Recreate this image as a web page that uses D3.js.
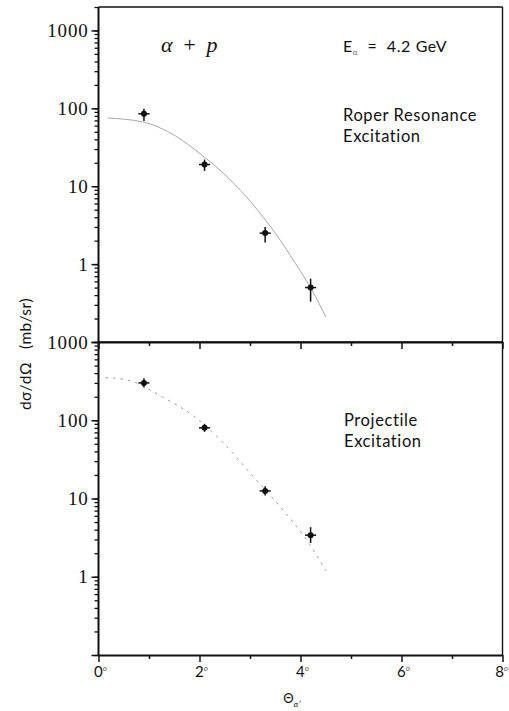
<!DOCTYPE html>
<html>
<head>
<meta charset="utf-8">
<script src="https://cdn.jsdelivr.net/npm/d3@7"></script>
<style>
  html, body { margin: 0; padding: 0; background: #fff; }
  svg { display: block; }
  text { fill: #111; }
</style>
</head>
<body>
<script>
// ---- data ----
const theta = [0.9, 2.1, 3.3, 4.2];            // scattering angle, degrees
const thetaErr = [0.11, 0.11, 0.11, 0.11];

const roperVals = [85, 19, 2.5, 0.5];
const roperLo   = [69, 15.7, 1.9, 0.33];
const roperHi   = [99, 22, 3.0, 0.65];

const projVals = [300, 80, 12.5, 3.4];
const projLo   = [262, 71, 10.9, 2.7];
const projHi   = [344, 90, 14.3, 4.3];

const roperCurveTheta = [0.18, 0.87, 1.53, 2.05, 2.58, 3.04, 3.50, 3.90, 4.23, 4.50];
const roperCurveVals  = [75, 67, 44, 25, 12.6, 6.0, 2.5, 1.02, 0.46, 0.21];

const projCurveTheta = [0.14, 0.60, 1.26, 1.86, 2.45, 2.98, 3.60, 4.13, 4.50];
const projCurveVals  = [351, 324, 199, 116, 53, 22, 7.8, 2.9, 1.2];

const xTicks = [0, 1, 2, 3, 4, 5, 6, 7, 8];
const xTickLabels = ["0", "", "2", "", "4", "", "6", "", "8"];
const yMajorUpper = [0.1, 1, 10, 100, 1000];
const yMajorLower = [0.1, 1, 10, 100, 1000];
const yLabelsUpper = ["", "1", "10", "100", "1000"];
const yLabelsLower = ["", "1", "10", "100", "1000"];

// ---- layout ----
const W = 509, H = 711;
const padL = 98.5, padR = 502.5;
const padT = 7, padM = 342, padB = 655;

const svg = d3.select("body").append("svg").attr("width", W).attr("height", H);

const x = d3.scaleLinear().domain([0, 8]).range([padL, padR]);
const yU = d3.scaleLog().domain([0.1, 2000]).range([padM, padT]);
const yL = d3.scaleLog().domain([0.1, 1000]).range([padB, padM]);

function minorTicks(domain) {
  const out = [];
  for (let e = -1; e <= 3; e++) {
    for (let m = 1; m <= 9; m++) {
      const v = m * Math.pow(10, e);
      if (v >= domain[0] - 1e-9 && v <= domain[1] + 1e-9) out.push(v);
    }
  }
  return out;
}

const serif = "'Liberation Serif', 'DejaVu Serif', serif";
const sans = "'Lato', 'Open Sans', sans-serif";

function drawPanel(y, majors, labels, curveT, curveV, dashed, vals, lo, hi) {
  const y0 = y.range()[0], y1 = y.range()[1];
  svg.append("line").attr("x1", padL).attr("x2", padR).attr("y1", y1).attr("y2", y1)
    .attr("stroke", "#111").attr("stroke-width", 1.6);
  svg.append("line").attr("x1", padR).attr("x2", padR).attr("y1", y1).attr("y2", y0)
    .attr("stroke", "#111").attr("stroke-width", 1.4);

  const gMin = svg.append("g").attr("transform", `translate(${padL},0)`)
    .call(d3.axisLeft(y).tickValues(minorTicks(y.domain())).tickSize(4).tickFormat(""));
  gMin.select(".domain").remove();
  gMin.selectAll(".tick line").attr("stroke", "#111").attr("stroke-width", 1.3);

  const gMaj = svg.append("g").attr("transform", `translate(${padL},0)`)
    .call(d3.axisLeft(y).tickValues(majors).tickSize(7).tickPadding(3)
      .tickFormat((d, i) => labels[i]));
  gMaj.select(".domain").remove();
  gMaj.selectAll(".tick line").attr("stroke", "#111").attr("stroke-width", 1.5);
  gMaj.selectAll(".tick text").attr("font-family", serif).attr("font-size", 19)
    .attr("font-weight", 400).attr("letter-spacing", 0.8).attr("fill", "#222");

  svg.append("line").attr("x1", padL).attr("x2", padL).attr("y1", y1).attr("y2", y0)
    .attr("stroke", "#111").attr("stroke-width", 2);

  const gx = svg.append("g").attr("transform", `translate(0,${y0})`)
    .call(d3.axisBottom(x).tickValues(xTicks).tickSize(0).tickFormat(""));
  gx.select(".domain").attr("stroke", "#111").attr("stroke-width", 1.8);
  gx.selectAll(".tick line").attr("stroke", "#111").attr("stroke-width", 1.5)
    .attr("y2", d => (d % 2 === 0 ? 7 : 4));

  const line = d3.line().x((d, i) => x(curveT[i])).y(d => y(d)).curve(d3.curveMonotoneX);
  svg.append("path").datum(curveV).attr("d", line)
    .attr("fill", "none").attr("stroke", dashed ? "#9a9a9a" : "#a8a8a8")
    .attr("stroke-width", 1)
    .attr("stroke-dasharray", dashed ? "2.5,5" : null);

  const g = svg.append("g");
  vals.forEach((v, i) => {
    g.append("line").attr("x1", x(theta[i])).attr("x2", x(theta[i]))
      .attr("y1", y(lo[i])).attr("y2", y(hi[i]))
      .attr("stroke", "#111").attr("stroke-width", 1.5);
    g.append("line").attr("x1", x(theta[i] - thetaErr[i])).attr("x2", x(theta[i] + thetaErr[i]))
      .attr("y1", y(v)).attr("y2", y(v))
      .attr("stroke", "#111").attr("stroke-width", 1.5);
    g.append("circle").attr("cx", x(theta[i])).attr("cy", y(v)).attr("r", 3)
      .attr("fill", "#111");
  });
}

drawPanel(yU, yMajorUpper, yLabelsUpper, roperCurveTheta, roperCurveVals, false,
  roperVals, roperLo, roperHi);
drawPanel(yL, yMajorLower, yLabelsLower, projCurveTheta, projCurveVals, true,
  projVals, projLo, projHi);

xTicks.forEach((t, i) => {
  if (!xTickLabels[i]) return;
  const last = i === xTicks.length - 1;
  const tx = svg.append("text").attr("x", last ? W - 1 : x(t) + 2).attr("y", 677)
    .attr("text-anchor", last ? "end" : "middle").attr("font-family", sans).attr("font-size", 15);
  tx.append("tspan").text(xTickLabels[i]);
  tx.append("tspan").text("o").attr("font-size", 8).attr("font-style", "italic")
    .attr("dy", -6).attr("fill", "#555");
});

const xt = svg.append("text").attr("x", 292).attr("y", 703)
  .attr("text-anchor", "middle").attr("font-family", sans).attr("font-size", 13);
xt.append("tspan").text("Θ");
xt.append("tspan").text("α′").attr("font-size", 8).attr("font-style", "italic").attr("dy", 4);

svg.append("text")
  .attr("transform", "translate(31,354) rotate(-90)")
  .attr("text-anchor", "middle").attr("font-family", sans).attr("font-size", 15.5)
  .attr("letter-spacing", 0.4)
  .attr("xml:space", "preserve")
  .text("dσ/dΩ   (mb/sr)");

svg.append("text").attr("x", 161).attr("y", 52)
  .attr("font-family", serif).attr("font-style", "italic").attr("font-size", 22)
  .attr("letter-spacing", 2)
  .attr("xml:space", "preserve").text("α + p");

const et = svg.append("text").attr("x", 343).attr("y", 52)
  .attr("font-family", sans).attr("font-size", 16).attr("letter-spacing", 0.6)
  .attr("xml:space", "preserve");
et.append("tspan").text("E");
et.append("tspan").text("α").attr("font-size", 8).attr("dy", 3).attr("fill", "#666");
et.append("tspan").text("  =  4.2 GeV").attr("dy", -3);

const labSize = 16.5, labSpacing = 0.6;
svg.append("text").attr("x", 343).attr("y", 121).attr("font-family", sans)
  .attr("font-size", labSize).attr("letter-spacing", labSpacing).text("Roper Resonance");
svg.append("text").attr("x", 343).attr("y", 142).attr("font-family", sans)
  .attr("font-size", labSize).attr("letter-spacing", labSpacing).text("Excitation");

svg.append("text").attr("x", 344).attr("y", 426).attr("font-family", sans)
  .attr("font-size", labSize).attr("letter-spacing", labSpacing).text("Projectile");
svg.append("text").attr("x", 344).attr("y", 447).attr("font-family", sans)
  .attr("font-size", labSize).attr("letter-spacing", labSpacing).text("Excitation");
</script>
</body>
</html>
